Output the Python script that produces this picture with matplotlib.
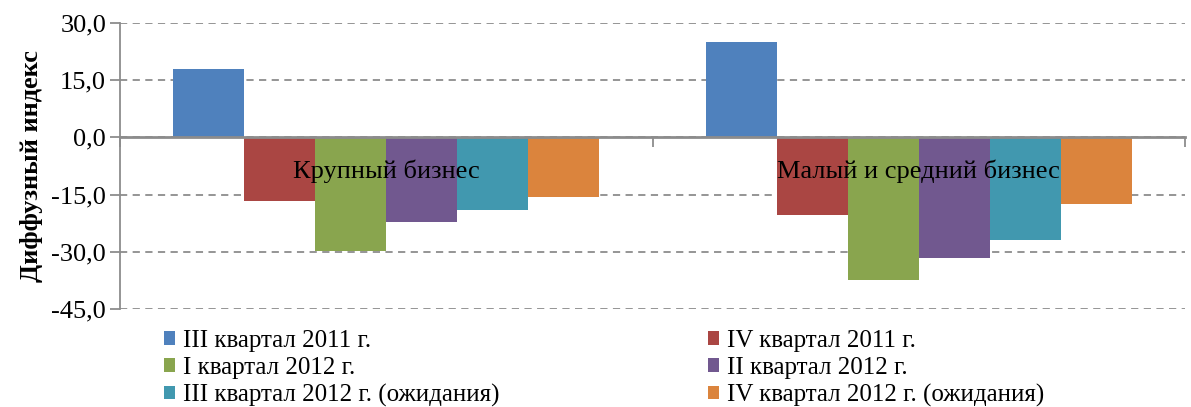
import matplotlib

matplotlib.use("Agg")

import matplotlib.pyplot as plt
import numpy as np

# data
categories = ["Крупный бизнес", "Малый и средний бизнес"]
series_names = [
    "III квартал 2011 г.",
    "IV квартал 2011 г.",
    "I квартал 2012 г.",
    "II квартал 2012 г.",
    "III квартал 2012 г. (ожидания)",
    "IV квартал 2012 г. (ожидания)",
]
q3_2011 = [18.0, 25.1]
q4_2011 = [-16.8, -20.3]
q1_2012 = [-29.9, -37.3]
q2_2012 = [-22.1, -31.6]
q3_2012 = [-19.0, -26.9]
q4_2012 = [-15.7, -17.4]
yticks = [-45, -30, -15, 0, 15, 30]

series = [q3_2011, q4_2011, q1_2012, q2_2012, q3_2012, q4_2012]
colors = ["#4F81BD", "#AA4643", "#89A54E", "#71588F", "#4198AF", "#DB843D"]

FONT = "Liberation Serif"
plt.rcParams["font.family"] = "serif"
plt.rcParams["font.serif"] = [FONT, "DejaVu Serif"]

fig = plt.figure(figsize=(11.91, 4.07), dpi=100)
ax = fig.add_axes([120 / 1191, 98 / 407, 1065 / 1191, 286 / 407])

x = np.arange(len(categories))
width = 0.8 / len(series)
handles = []
for i, (vals, col) in enumerate(zip(series, colors)):
    offs = (i - (len(series) - 1) / 2) * width
    h = ax.bar(x + offs, vals, width, color=col, label=series_names[i], zorder=2)
    handles.append(h)

ax.set_xlim(-0.5, len(categories) - 0.5)
ax.set_ylim(-45, 30)
ax.set_yticks(yticks)
ax.set_yticklabels([f"{v:.1f}".replace(".", ",") for v in yticks], fontsize=19, family=FONT)
ax.yaxis.grid(True, linestyle=(0, (4, 3)), color="#8c8c8c", linewidth=1.3, zorder=0)
ax.tick_params(axis="y", length=7, width=1.3, color="#8c8c8c", pad=3)

# category axis crosses at zero, labels sit over the bars
ax.spines["bottom"].set_position(("data", 0))
ax.spines["bottom"].set_color("#8c8c8c")
ax.spines["bottom"].set_linewidth(2)
ax.spines["bottom"].set_zorder(3)
ax.spines["left"].set_color("#8c8c8c")
ax.spines["left"].set_linewidth(1.3)
ax.spines["top"].set_visible(False)
ax.spines["right"].set_visible(False)
ax.xaxis.set_zorder(5)
ax.set_xticks([-0.5, 0.5, 1.5])
ax.set_xticklabels([])
ax.set_xticks(x, minor=True)
ax.set_xticklabels(categories, minor=True, fontsize=19, family=FONT)
ax.tick_params(axis="x", which="major", length=7, width=1.3, color="#8c8c8c")
ax.tick_params(axis="x", which="minor", length=0, pad=16)

ax.set_ylabel("Диффузный индекс", fontsize=19, fontweight="bold", family=FONT, labelpad=6)

# legend fills column-wise, so reorder to read row by row
order = [0, 2, 4, 1, 3, 5]
fig.legend(
    [handles[i] for i in order],
    [series_names[i] for i in order],
    ncol=2,
    loc="upper left",
    bbox_to_anchor=(164 / 1191, 1 - 330 / 407),
    frameon=False,
    prop={"family": FONT, "size": 18},
    handlelength=0.45,
    handleheight=0.45,
    handletextpad=0.3,
    labelspacing=0.2,
    columnspacing=8.35,
    borderpad=0,
    borderaxespad=0,
)

fig.savefig("out.png", dpi=100)
